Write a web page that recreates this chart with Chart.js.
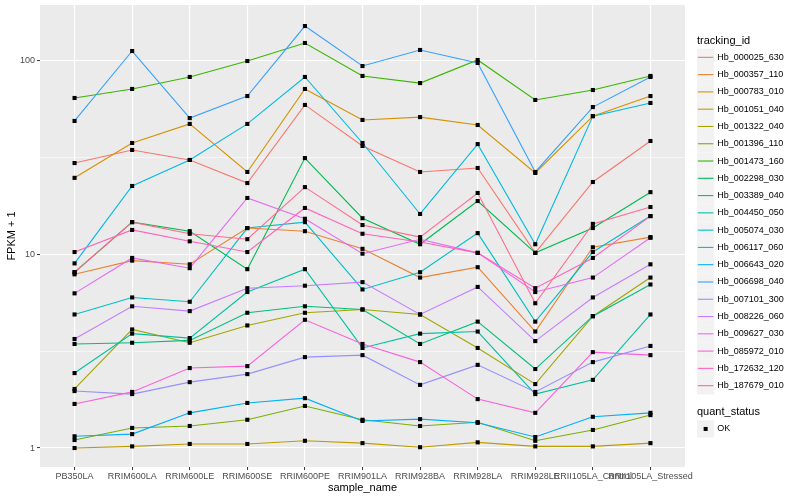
<!DOCTYPE html>
<html>
<head>
<meta charset="utf-8">
<script src="https://cdn.jsdelivr.net/npm/chart.js@4.4.0/dist/chart.umd.min.js"></script>
<style>
  html, body { margin: 0; padding: 0; background: #fff; }
</style>
</head>
<body>
<canvas id="chart" width="800" height="500"></canvas>
<script>
var samples = ['PB350LA', 'RRIM600LA', 'RRIM600LE', 'RRIM600SE', 'RRIM600PE', 'RRIM901LA',
    'RRIM928BA', 'RRIM928LA', 'RRIM928LE', 'RRII105LA_Control', 'RRII105LA_Stressed']

var trackingIds = ['Hb_000025_630', 'Hb_000357_110', 'Hb_000783_010', 'Hb_001051_040', 'Hb_001322_040',
    'Hb_001396_110', 'Hb_001473_160', 'Hb_002298_030', 'Hb_003389_040', 'Hb_004450_050',
    'Hb_005074_030', 'Hb_006117_060', 'Hb_006643_020', 'Hb_006698_040', 'Hb_007101_300',
    'Hb_008226_060', 'Hb_009627_030', 'Hb_085972_010', 'Hb_172632_120', 'Hb_187679_010']

// ggplot default hue palette, 20 levels
var hueColors = ['#F8766D', '#EA8331', '#D89000', '#C09B00', '#A3A500', '#7CAE00', '#39B600', '#00BB4E',
    '#00BF7D', '#00C1A3', '#00BFC4', '#00BAE0', '#00B0F6', '#35A2FF', '#9590FF', '#C77CFF',
    '#E76BF3', '#FA62DB', '#FF62BC', '#FF6C91']

// FPKM + 1, one value per sample
var hb_000025_630 = [29.7, 34.7, 30.8, 23.4, 59.3, 36.4, 26.7, 28.0, 10.2, 23.7, 38.6]
var hb_000357_110 = [7.9, 9.3, 8.9, 13.7, 13.2, 10.7, 7.6, 8.6, 4.0, 10.9, 12.3]
var hb_000783_010 = [24.9, 37.7, 47.3, 26.7, 71.7, 49.6, 51.3, 46.7, 26.4, 51.9, 65.9]
var hb_001051_040 = [1.00, 1.02, 1.05, 1.05, 1.09, 1.06, 1.01, 1.07, 1.02, 1.02, 1.06]
var hb_001322_040 = [2.02, 4.1, 3.5, 4.3, 5.0, 5.2, 4.9, 3.29, 2.14, 4.8, 7.6]
var hb_001396_110 = [1.10, 1.27, 1.30, 1.40, 1.65, 1.40, 1.30, 1.36, 1.09, 1.24, 1.48]
var hb_001473_160 = [64.4, 71.7, 82.7, 100, 123.9, 83.7, 76.9, 101.2, 62.9, 70.8, 83.7]
var hb_002298_030 = [8.1, 14.7, 13.2, 8.4, 31.5, 15.4, 11.3, 18.9, 10.2, 13.7, 21.0]
var hb_003389_040 = [3.45, 3.5, 3.6, 5.0, 5.4, 5.2, 3.45, 4.5, 2.56, 4.8, 7.0]
var hb_004450_050 = [2.44, 3.9, 3.7, 6.4, 8.4, 3.29, 3.9, 4.0, 1.90, 2.25, 4.9]
var hb_005074_030 = [4.9, 6.0, 5.7, 13.7, 14.7, 6.6, 8.1, 12.9, 4.5, 10.3, 15.8]
var hb_006117_060 = [9.0, 22.6, 30.8, 47.3, 82.7, 37.7, 16.2, 37.2, 11.3, 51.9, 60.7]
var hb_006643_020 = [1.15, 1.18, 1.52, 1.71, 1.81, 1.38, 1.41, 1.35, 1.14, 1.45, 1.52]
var hb_006698_040 = [49.0, 112.6, 50.7, 65.9, 151.6, 94.2, 114.0, 97.7, 26.7, 57.8, 82.7]
var hb_007101_300 = [1.97, 1.90, 2.19, 2.41, 2.95, 3.02, 2.12, 2.69, 1.95, 2.78, 3.37]
var hb_008226_060 = [3.66, 5.4, 5.1, 6.7, 6.9, 7.2, 4.9, 6.8, 3.57, 6.0, 8.9]
var hb_009627_030 = [6.3, 9.6, 8.5, 19.6, 15.3, 10.1, 12.0, 10.2, 6.4, 7.6, 12.2]
var hb_085972_010 = [1.69, 1.95, 2.59, 2.65, 4.6, 3.45, 2.78, 1.79, 1.52, 3.13, 3.02]
var hb_172632_120 = [10.3, 13.4, 11.7, 10.3, 17.4, 12.8, 11.6, 10.2, 6.7, 9.6, 15.8]
var hb_187679_010 = [8.1, 14.7, 12.8, 12.0, 22.3, 14.2, 12.3, 20.8, 5.6, 14.4, 17.6]

var seriesValues = [hb_000025_630, hb_000357_110, hb_000783_010, hb_001051_040, hb_001322_040,
    hb_001396_110, hb_001473_160, hb_002298_030, hb_003389_040, hb_004450_050,
    hb_005074_030, hb_006117_060, hb_006643_020, hb_006698_040, hb_007101_300,
    hb_008226_060, hb_009627_030, hb_085972_010, hb_172632_120, hb_187679_010]

var yMajorTicks = [1, 10, 100]
var yMinorTicks = [3.1623, 31.623]
var quantStatus = ['OK']

var FONT = '"Liberation Sans", Arial, sans-serif'
Chart.defaults.font.family = FONT

var datasets = trackingIds.map(function (id, i) {
    return {
        label: id,
        data: seriesValues[i].map(function (v, j) { return {x: j, y: v} }),
        borderColor: hueColors[i],
        borderWidth: 1.1,
        pointRadius: 0,
        fill: false,
        tension: 0,
        order: trackingIds.length - i
    }
})

// black squares on top of every line
var points = []
seriesValues.forEach(function (vals) {
    vals.forEach(function (v, j) { points.push({x: j, y: v}) })
})
datasets.push({
    label: quantStatus[0],
    data: points,
    showLine: false,
    pointStyle: 'rect',
    pointRadius: 2.9,
    pointBackgroundColor: '#000',
    pointBorderWidth: 0,
    borderColor: '#000',
    order: 0
})

var isMajor = function (v) { return yMajorTicks.indexOf(v) >= 0 }

var panelPlugin = {
    id: 'panel',
    beforeDraw: function (chart) {
        var ctx = chart.ctx
        var a = chart.chartArea
        ctx.save()
        ctx.fillStyle = '#fff'
        ctx.fillRect(0, 0, chart.width, chart.height)
        ctx.fillStyle = '#EBEBEB'
        ctx.fillRect(a.left, a.top, a.right - a.left, a.bottom - a.top)
        ctx.restore()
    }
}

var legendPlugin = {
    id: 'ggLegend',
    afterDraw: function (chart) {
        var ctx = chart.ctx
        var x0 = 697, key = 17.28
        ctx.save()
        ctx.textBaseline = 'middle'
        ctx.textAlign = 'left'
        ctx.fillStyle = '#000'
        ctx.font = '11px ' + FONT
        ctx.fillText('tracking_id', x0, 40.5)

        ctx.font = '9px ' + FONT
        trackingIds.forEach(function (id, i) {
            var top = 48.7 + i * key
            ctx.fillStyle = '#F2F2F2'
            ctx.fillRect(x0, top, key, key)
            ctx.strokeStyle = hueColors[i]
            ctx.lineWidth = 1.1
            ctx.beginPath()
            ctx.moveTo(x0 + 0.9, top + key / 2)
            ctx.lineTo(x0 + key - 0.9, top + key / 2)
            ctx.stroke()
            ctx.fillStyle = '#000'
            ctx.fillText(id, x0 + key + 3, top + key / 2)
        })

        ctx.font = '11px ' + FONT
        ctx.fillText('quant_status', x0, 412)
        var top = 420.3
        ctx.fillStyle = '#F2F2F2'
        ctx.fillRect(x0, top, key, key)
        ctx.fillStyle = '#000'
        ctx.fillRect(x0 + key / 2 - 2, top + key / 2 - 2, 4, 4)
        ctx.font = '9px ' + FONT
        ctx.fillText(quantStatus[0], x0 + key + 3, top + key / 2)
        ctx.restore()
    }
}

var ctx = document.getElementById('chart')

new Chart(ctx, {
    type: 'line',
    data: { datasets: datasets },
    plugins: [panelPlugin, legendPlugin],
    options: {
        responsive: false,
        animation: false,
        devicePixelRatio: 1,
        layout: { padding: { left: 0, top: 5, right: 115, bottom: 0 } },
        plugins: {
            legend: { display: false },
            tooltip: { enabled: false }
        },
        scales: {
            x: {
                type: 'linear',
                min: -0.6,
                max: 10.6,
                afterBuildTicks: function (scale) {
                    scale.ticks = samples.map(function (s, i) { return {value: i} })
                },
                afterFit: function (scale) {
                    scale.height = 33
                    scale.paddingLeft = 0
                    scale.paddingRight = 0
                },
                border: { display: false },
                grid: {
                    color: '#fff',
                    lineWidth: 1.1,
                    drawTicks: true,
                    tickLength: 3,
                    tickColor: '#333',
                    tickWidth: 1
                },
                ticks: {
                    autoSkip: false,
                    maxRotation: 0,
                    minRotation: 0,
                    padding: 1,
                    color: '#4D4D4D',
                    font: { size: 9 },
                    callback: function (v) { return samples[v] }
                },
                title: {
                    display: true,
                    text: 'sample_name',
                    color: '#000',
                    font: { size: 11 },
                    padding: { top: 0, bottom: 5.4 }
                }
            },
            y: {
                type: 'logarithmic',
                min: 0.798,
                max: 194.7,
                bounds: 'data',
                afterBuildTicks: function (scale) {
                    scale.ticks = yMajorTicks.concat(yMinorTicks)
                        .sort(function (a, b) { return a - b })
                        .map(function (v) { return {value: v} })
                },
                afterFit: function (scale) {
                    scale.width = 40
                    scale.paddingTop = 0
                    scale.paddingBottom = 0
                },
                border: { display: false },
                grid: {
                    color: '#fff',
                    lineWidth: function (c) { return c.tick && isMajor(c.tick.value) ? 1.1 : 0.55 },
                    drawTicks: true,
                    tickLength: 3,
                    tickWidth: 1,
                    tickColor: function (c) { return c.tick && isMajor(c.tick.value) ? '#333' : 'rgba(0,0,0,0)' }
                },
                ticks: {
                    padding: 2,
                    color: '#4D4D4D',
                    font: { size: 9 },
                    callback: function (v) { return isMajor(v) ? String(v) : '' }
                },
                title: {
                    display: true,
                    text: 'FPKM + 1',
                    color: '#000',
                    font: { size: 11 },
                    padding: { top: 5.4, bottom: 0 }
                }
            }
        }
    }
})
</script>
</body>
</html>
